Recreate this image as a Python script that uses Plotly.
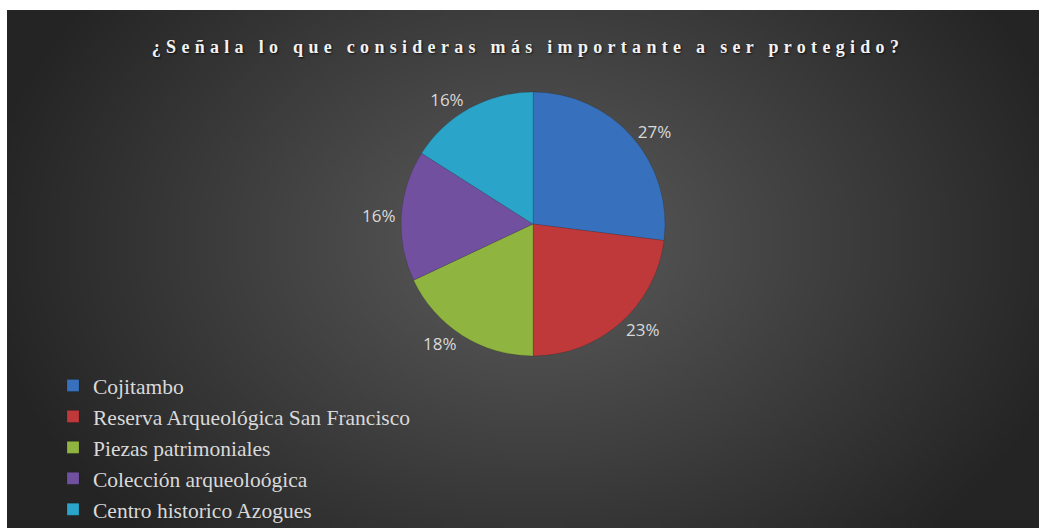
import base64
import struct
import zlib

import numpy as np
import plotly.graph_objects as go

# ---- data ----
categories = [
    "Cojitambo",
    "Reserva Arqueológica San Francisco",
    "Piezas patrimoniales",
    "Colección arqueoloógica",
    "Centro historico Azogues",
]
percentages = [27, 23, 18, 16, 16]
colors = ["#3771bd", "#c0393a", "#8fb43f", "#7150a0", "#2aa5c9"]
title_text = "¿Señala lo que consideras más importante a ser protegido?"

FIG_W, FIG_H = 1039, 528


# ---- radial gradient background (generated PNG) ----
def gradient_png(w, h, cx, cy, rx, ry, c_in, c_out):
    xs = np.arange(w)[None, :]
    ys = np.arange(h)[:, None]
    d = np.sqrt(((xs - cx) / rx) ** 2 + ((ys - cy) / ry) ** 2)
    d = np.clip(d, 0, 1)
    v = (c_in + (c_out - c_in) * d).astype(np.uint8)
    rgb = np.stack([v, v, v], axis=-1)
    raw = b"".join(b"\x00" + rgb[j].tobytes() for j in range(h))

    def chunk(tag, data):
        return (struct.pack(">I", len(data)) + tag + data
                + struct.pack(">I", zlib.crc32(tag + data) & 0xFFFFFFFF))

    png = (b"\x89PNG\r\n\x1a\n"
           + chunk(b"IHDR", struct.pack(">IIBBBBB", w, h, 8, 2, 0, 0, 0))
           + chunk(b"IDAT", zlib.compress(raw, 9))
           + chunk(b"IEND", b""))
    return "data:image/png;base64," + base64.b64encode(png).decode()


# background rect in page pixels: x from 7, y from 10, to the window edges
BG_X0, BG_Y0 = 7, 10
bg_w, bg_h = FIG_W - BG_X0, FIG_H - BG_Y0
img_w, img_h = 258, 130
bg_src = gradient_png(img_w, img_h,
                      cx=(533 - BG_X0) / bg_w * img_w,
                      cy=(240 - BG_Y0) / bg_h * img_h,
                      rx=560 / bg_w * img_w,
                      ry=420 / bg_h * img_h,
                      c_in=92, c_out=36)


def px(x):
    return x / FIG_W


def py(y):
    return 1 - y / FIG_H


# pie: centre (533, 224) on the page, radius ~132 px
cxp, cyp, rad = 533, 224, 132

fig = go.Figure()
fig.add_trace(go.Pie(
    labels=categories,
    values=percentages,
    sort=False,
    direction="clockwise",
    rotation=0,
    marker=dict(colors=colors, line=dict(color="rgba(0,0,0,0.25)", width=0.5)),
    textposition="outside",
    texttemplate="%{percent:.0%}",
    textfont=dict(family="Open Sans", size=17, color="#d9d9d9"),
    domain=dict(x=[px(cxp - rad - 40), px(cxp + rad + 40)],
                y=[py(cyp + rad), py(cyp - rad)]),
    hoverinfo="label+percent",
))

fig.add_layout_image(dict(
    source=bg_src,
    xref="paper", yref="paper",
    x=BG_X0 / FIG_W, y=1 - BG_Y0 / FIG_H,
    sizex=bg_w / FIG_W, sizey=bg_h / FIG_H,
    xanchor="left", yanchor="top",
    sizing="stretch", layer="below",
))

fig.update_layout(
    width=FIG_W, height=FIG_H,
    margin=dict(l=0, r=0, t=0, b=0, autoexpand=False),
    paper_bgcolor="white",
    plot_bgcolor="rgba(0,0,0,0)",
    title=dict(
        text='<b><span style="letter-spacing:5.3px">' + title_text + "</span></b>",
        x=px(528), xanchor="center",
        y=py(47), yanchor="middle",
        font=dict(family="Liberation Serif", size=18, color="#f2f2f2",
                  shadow="1px 1px 2px rgba(0,0,0,0.7)"),
    ),
    legend=dict(
        x=px(73) - 20 / FIG_W, xanchor="left",
        y=py(365), yanchor="top",
        font=dict(family="Liberation Serif", size=21.5, color="#d9d9d9"),
        bgcolor="rgba(0,0,0,0)",
        itemclick=False,
    ),
    showlegend=True,
)

fig.write_html(
    "out.html",
    config={"displayModeBar": False},
    post_script="document.body.style.margin='0';document.body.style.overflow='hidden';",
)
